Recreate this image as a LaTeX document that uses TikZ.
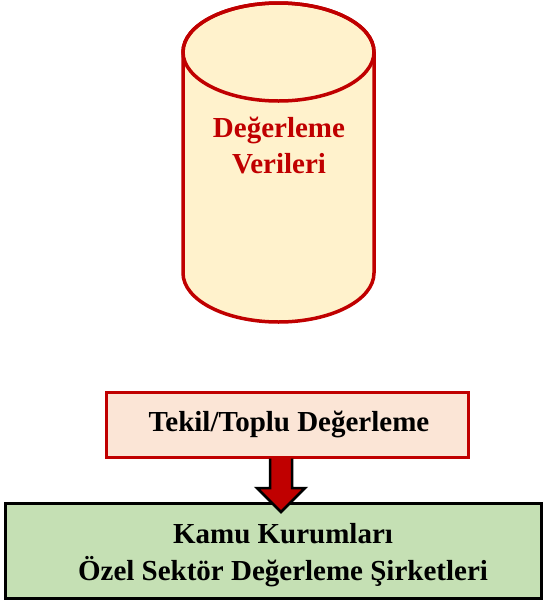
\documentclass[tikz,border=0pt]{standalone}
\usepackage{fontspec}
\setmainfont{Liberation Serif}
\definecolor{dred}{HTML}{C00000}
\definecolor{cylfill}{HTML}{FFF2CC}
\definecolor{pinkfill}{HTML}{FBE5D6}
\definecolor{greenfill}{HTML}{C5E0B4}
\tikzset{
  boxstyle/.style={draw, line width=3pt, inner sep=0pt},
  boxtext/.style={font=\bfseries\fontsize{29}{37}\selectfont, align=center, inner sep=0pt},
}
\begin{document}
\begin{tikzpicture}[x=1pt,y=-1pt]
\useasboundingbox (0,0) rectangle (544,603);
% cylinder
\path[fill=cylfill, draw=dred, line width=3.5pt]
  (183,52) -- (183,273) arc[start angle=180, end angle=360, x radius=95.5, y radius=-49] -- (374,52)
  arc[start angle=0, end angle=180, x radius=95.5, y radius=-49] -- cycle;
\draw[dred, line width=3.5pt] (278.5,52) ellipse[x radius=95.5, y radius=49];
\node[text=dred, font=\bfseries\fontsize{29}{36}\selectfont, align=center] (cyl) at (279,145) {Değerleme\\Verileri};
% boxes
\node[boxstyle, draw=dred, fill=pinkfill, minimum width=362pt, minimum height=65pt] (tek) at (287,424.5) {};
\node[boxtext] (tektext) at (289,424.5) {Tekil/Toplu Değerleme};
\node[boxstyle, draw=black, fill=greenfill, minimum width=536pt, minimum height=95pt] (kam) at (273,550.5) {};
\node[boxtext] (kamtext) at (283,555) {Kamu Kurumları\\Özel Sektör Değerleme Şirketleri};
% arrow
\draw[black, line width=2.5pt, fill=dred, line join=miter]
  (tek.south -| 270,0) -- (270,488) -- (257,488) -- (281,512) -- (305,488) -- (292,488) -- (tek.south -| 292,0);
\end{tikzpicture}
\end{document}
